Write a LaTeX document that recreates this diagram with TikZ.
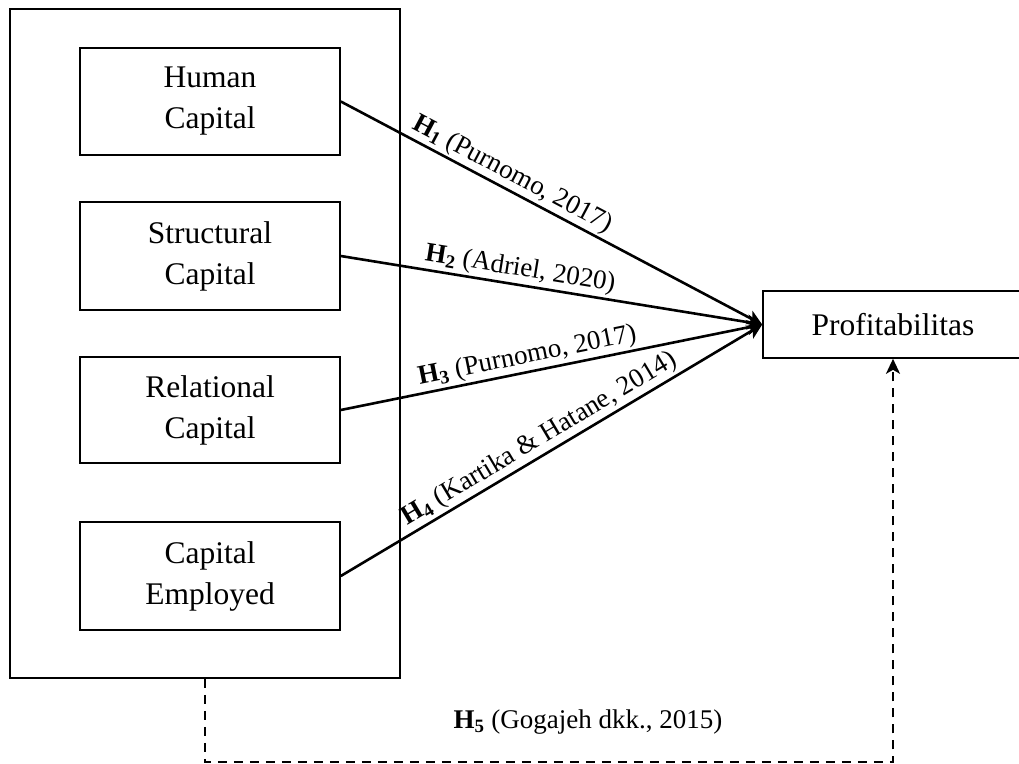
\documentclass[tikz,border=0pt]{standalone}
\usepackage{fontspec}
\setmainfont{Liberation Serif}
\usetikzlibrary{arrows.meta}
\tikzset{
  box/.style={draw, line width=1.6pt, inner sep=0pt, align=center,
    font=\fontsize{31.5}{41}\selectfont},
  outerbox/.style={draw, line width=1.5pt, inner sep=0pt},
  lbl/.style={font=\fontsize{27}{32}\selectfont, inner sep=2pt},
  arrow/.style={line width=2.6pt, -{Stealth[length=15pt,width=15pt,inset=4pt]}},
  dasharrow/.style={line width=2pt, dash pattern=on 9pt off 7pt,
    -{Stealth[length=15pt,width=14pt,inset=4pt]}}
}
\begin{document}
\begin{tikzpicture}[x=1pt,y=-1pt]
\useasboundingbox (0,0) rectangle (1019,763);
\node[outerbox, minimum width=390pt, minimum height=669pt] (outer) at (205,343.5) {};
\node[box, minimum width=260pt, minimum height=107pt] (hc) at (210,101.5) {Human\\Capital};
\node[box, minimum width=260pt, minimum height=108pt] (sc) at (210,256) {Structural\\Capital};
\node[box, minimum width=260pt, minimum height=106pt] (rc) at (210,410) {Relational\\Capital};
\node[box, minimum width=260pt, minimum height=108pt] (ce) at (210,576) {Capital\\Employed};
\node[box, minimum width=260pt, minimum height=67pt] (pr) at (893,324.5) {Profitabilitas};
\coordinate (c1) at (205,762);
\coordinate (c2) at (893,762);

\draw[arrow] (hc.east) -- node[lbl, sloped, above, pos=0.39] {\textbf{H\textsubscript{1}} (Purnomo, 2017)} (pr.west);
\draw[arrow] (sc.east) -- node[lbl, sloped, above, pos=0.42] {\textbf{H\textsubscript{2}} (Adriel, 2020)} (pr.west);
\draw[arrow] (rc.east) -- node[lbl, sloped, above, pos=0.45] {\textbf{H\textsubscript{3}} (Purnomo, 2017)} (pr.west);
\draw[arrow] (ce.east) -- node[lbl, sloped, above, pos=0.49] {\textbf{H\textsubscript{4}} (Kartika \& Hatane, 2014)} (pr.west);

\draw[dasharrow] (outer.south) -- (c1) -- (c2) -- (pr.south);
\node[lbl] (h5) at (588,722) {\textbf{H\textsubscript{5}} (Gogajeh dkk., 2015)};
\end{tikzpicture}
\end{document}
